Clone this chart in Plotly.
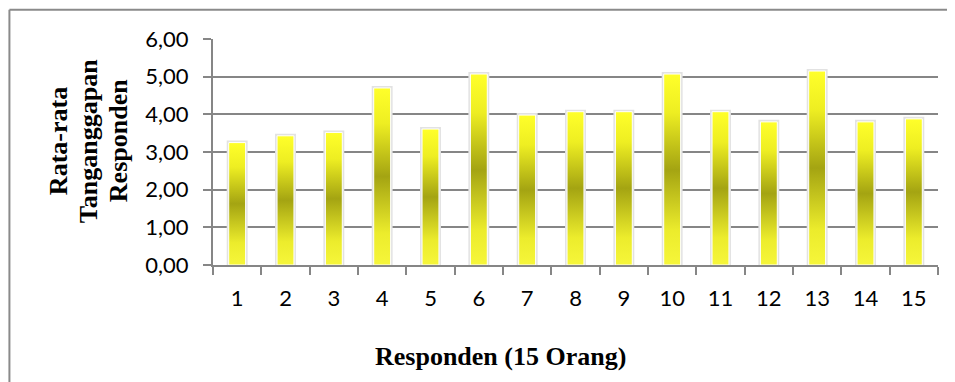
import plotly.graph_objects as go

# ---- data ----
respondents = [str(i) for i in range(1, 16)]
scores = [3.25, 3.43, 3.52, 4.70, 3.61, 5.07, 3.98, 4.07, 4.07, 5.07, 4.07, 3.80, 5.15, 3.80, 3.88]
y_ticks = [0, 1, 2, 3, 4, 5, 6]
x_title = "Responden (15 Orang)"
y_title_lines = ["Rata-rata", "Tanganggapan", "Responden"]

GRID = "#868686"
BAR_W = 0.35
grad = [[0.0, "#F6F63A"], [0.18, "#ECEC2C"], [0.5, "#A4A412"], [0.8, "#EEEE22"], [1.0, "#FFFF2A"]]

fig = go.Figure()

# real bars (shadow/outline underneath)
fig.add_trace(go.Bar(
    x=respondents, y=scores, width=BAR_W,
    marker=dict(color="#F0F030", line=dict(color="#E2E2E2", width=4)),
    showlegend=False, hoverinfo="x+y",
))

# gradient overlays, one per bar, on a hidden linear axis aligned with the category axis
for i, v in enumerate(scores):
    fig.add_trace(go.Scatter(
        x=[i - BAR_W / 2, i - BAR_W / 2, i + BAR_W / 2, i + BAR_W / 2, i - BAR_W / 2],
        y=[0, v, v, 0, 0],
        mode="lines", fill="toself",
        fillgradient=dict(type="vertical", colorscale=grad, start=0, stop=v),
        line=dict(color="white", width=1),
        xaxis="x2", yaxis="y",
        hoverinfo="skip", showlegend=False,
    ))

tick_font = dict(family="Lato, Open Sans, sans-serif", size=22, color="#000000")

fig.update_layout(
    width=955, height=382, autosize=False,
    margin=dict(l=205, r=25, t=31, b=125, pad=0),
    paper_bgcolor="white", plot_bgcolor="white",
    separators=",.",
    bargap=0.65,
    xaxis=dict(
        type="category", range=[-0.5, 14.5], tickson="boundaries",
        ticks="outside", ticklen=8, tickwidth=2, tickcolor=GRID,
        showline=True, linecolor=GRID, linewidth=2,
        showgrid=False, zeroline=False, tickfont=tick_font,
        ticklabelstandoff=13,
    ),
    xaxis2=dict(
        overlaying="x", anchor="y", range=[-0.5, 14.5], visible=False,
    ),
    yaxis=dict(
        range=[0, 6], tickvals=y_ticks, tickformat=".2f",
        ticks="outside", ticklen=8, tickwidth=2, tickcolor=GRID,
        showline=True, linecolor=GRID, linewidth=2,
        showgrid=True, gridcolor=GRID, gridwidth=2,
        zeroline=False, tickfont=tick_font, ticklabelstandoff=10,
    ),
)

# chart border (left and top only visible)
fig.add_shape(type="line", xref="paper", yref="paper",
              x0=-0.2808, x1=-0.2808, y0=1.129, y1=-0.7,
              line=dict(color="#8A8A8A", width=2))
fig.add_shape(type="line", xref="paper", yref="paper",
              x0=-0.2808, x1=1.06, y0=1.129, y1=1.129,
              line=dict(color="#8A8A8A", width=2))

title_font = dict(family="Liberation Serif, Times New Roman, serif", size=26, color="#000000")
for xp, txt in zip([-0.2138, -0.1724, -0.131], y_title_lines):
    fig.add_annotation(text="<b>" + txt + "</b>", xref="paper", yref="paper",
                       x=xp, y=0.548, xanchor="center", yanchor="middle",
                       textangle=-90, showarrow=False, font=title_font)

fig.add_annotation(text="<b>" + x_title + "</b>", xref="paper", yref="paper",
                   x=0.396, y=-0.4066, xanchor="center", yanchor="middle",
                   showarrow=False, font=title_font)

fig.write_html("out.html")
